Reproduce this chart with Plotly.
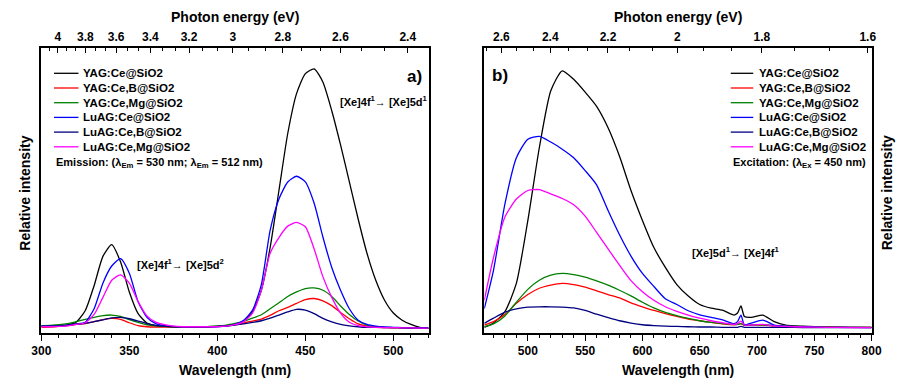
import numpy as np
import plotly.graph_objects as go

# ---------------- data ----------------
names = ["YAG:Ce@SiO2", "YAG:Ce,B@SiO2", "YAG:Ce,Mg@SiO2",
         "LuAG:Ce@SiO2", "LuAG:Ce,B@SiO2", "LuAG:Ce,Mg@SiO2"]
colors = ["#000000", "#ff0000", "#008000", "#0000ff", "#000080", "#ff00ff"]

# panel a) wavelength grid (nm)
wl_a = [300, 305, 310, 315, 320, 325, 330, 335, 340, 345,
        350, 355, 360, 365, 370, 375, 380, 385, 390, 395,
        400, 405, 410, 415, 420, 425, 430, 435, 440, 445,
        450, 455, 460, 465, 470, 475, 480, 485, 490, 495,
        500, 505, 510, 515, 520]
a_yag_ce = [2.4, 2.4, 2.5, 2.8, 3.9, 7.9, 16.6, 26.9, 31.0, 25.0,
            14.4, 6.8, 3.5, 2.6, 2.3, 2.2, 2.2, 2.2, 2.2, 2.2,
            2.3, 2.5, 3.0, 4.2, 7.5, 15, 30, 50, 70, 84,
            91, 92.7, 88, 78, 66, 53, 40, 28, 18.5, 11.5,
            7, 4.5, 3, 2, 1.6]
a_yag_ce_b = [2.0, 2.1, 2.3, 2.6, 3.0, 3.3, 4.0, 4.7, 5.1, 4.8,
              3.6, 2.6, 2.2, 2.1, 2.1, 2.1, 2.1, 2.1, 2.1, 2.2,
              2.3, 2.6, 3.0, 3.5, 4.2, 4.9, 6.2, 7.8, 9.0, 10.4,
              11.7, 12.1, 11.3, 9.6, 7.2, 5.0, 3.2, 2.4, 2.0, 1.9,
              1.8, 1.8, 1.7, 1.7, 1.6]
a_yag_ce_mg = [2.6, 2.7, 2.9, 3.3, 4.0, 4.8, 5.5, 6.1, 6.3, 5.8,
               4.7, 3.7, 2.9, 2.5, 2.3, 2.2, 2.2, 2.2, 2.2, 2.3,
               2.5, 2.8, 3.4, 4.1, 5.2, 6.4, 8.5, 10.6, 12.8, 14.4,
               15.6, 15.8, 15, 12.8, 9.5, 6.5, 4.2, 2.8, 2.2, 2.0,
               1.9, 1.8, 1.7, 1.7, 1.6]
a_luag_ce = [2.4, 2.4, 2.5, 2.7, 3.2, 3.8, 8.5, 17.5, 23.5, 26.1,
             21, 11, 5.5, 3.3, 2.6, 2.3, 2.2, 2.2, 2.2, 2.2,
             2.2, 2.4, 3, 4.5, 8, 17, 36, 47, 53, 55,
             53, 45.5, 33.6, 23, 15, 8.5, 4.5, 3, 2.4, 2.1,
             2, 1.9, 1.8, 1.8, 1.8]
a_luag_ce_b = [2.3, 2.4, 2.5, 2.8, 3.1, 3.4, 4.0, 4.6, 5.3, 5.5,
               5.0, 4.2, 3.3, 2.7, 2.4, 2.2, 2.2, 2.2, 2.2, 2.2,
               2.3, 2.5, 2.8, 3.2, 3.7, 4.3, 5.2, 6.3, 7.4, 8.3,
               8.0, 6.8, 5.1, 3.9, 3.0, 2.5, 2.2, 2.0, 2.0, 1.9,
               1.9, 1.8, 1.8, 1.7, 1.7]
a_luag_ce_mg = [2.2, 2.2, 2.3, 2.5, 3.0, 3.6, 6.5, 12.5, 18.5, 20.4,
                17.5, 11, 6, 3.8, 2.9, 2.4, 2.2, 2.2, 2.2, 2.2,
                2.2, 2.4, 2.9, 4, 7, 15, 28, 33.5, 37.5, 38.8,
                37.3, 29.5, 19.7, 12.5, 7, 3.8, 2.6, 2.2, 2.0, 1.9,
                1.9, 1.8, 1.8, 1.7, 1.7]

# panel b) wavelength grid (nm)
wl_b = [462, 470, 480, 490, 500, 510, 520, 530, 540, 550,
        560, 570, 580, 590, 600, 610, 620, 630, 640, 650,
        660, 670, 680, 683, 686, 689, 695, 705, 715, 725,
        740, 760, 780, 800]
b_yag_ce = [2.0, 3.5, 7.5, 17.5, 39.5, 65, 85, 92, 89, 84.5,
            79.5, 72, 62, 50, 39.5, 30, 23, 17, 13, 10,
            8.7, 8.0, 6.3, 7, 9.5, 5.8, 5.5, 6.3, 4, 2.8,
            2.4, 2.1, 2.0, 2.0]
b_yag_ce_b = [2.8, 4, 6.5, 10.4, 13.5, 15.7, 16.8, 17.4, 17, 16.1,
              14.8, 13.5, 12.3, 10.6, 9.2, 7.9, 6.8, 5.8, 4.9, 4.3,
              3.7, 3.2, 2.9, 3.0, 3.3, 2.7, 2.7, 2.8, 2.5, 2.3,
              2.2, 2.1, 2.0, 2.0]
b_yag_ce_mg = [2.2, 3.2, 6, 10.8, 15.3, 18.5, 20.3, 20.9, 20.5, 19.6,
               18.3, 16.8, 15, 13, 10.8, 8.8, 7.2, 6.1, 5.1, 4.3,
               3.7, 3.3, 3.0, 3.0, 3.3, 2.8, 2.8, 2.9, 2.6, 2.4,
               2.2, 2.1, 2.0, 2.0]
b_luag_ce = [8.6, 22, 45.3, 61.5, 68, 69, 67, 64.5, 61.5, 57,
             52, 43, 34.5, 27, 20.9, 16.3, 12, 10, 7.8, 6.4,
             5.5, 4.6, 3.3, 4, 6.3, 2.9, 3.5, 4.5, 2.8, 2.4,
             2.2, 2.0, 2.0, 1.9]
b_luag_ce_b = [3.4, 5.2, 7.3, 8.5, 9.1, 9.2, 9.2, 9.1, 8.8, 7.9,
               6.6, 5.4, 4.3, 3.5, 2.9, 2.6, 2.4, 2.3, 2.2, 2.1,
               2.1, 2.0, 2.0, 2.0, 2.3, 2.0, 2.0, 2.0, 2.0, 2.0,
               1.9, 1.9, 1.9, 1.9]
b_luag_ce_mg = [11.5, 26.5, 40.7, 47, 50, 50.3, 48.8, 47.2, 45, 41,
                35.3, 29.5, 23.8, 18.4, 14.5, 11.5, 9.2, 7.6, 6.3, 5.2,
                4.3, 3.6, 3.0, 3.3, 4.2, 2.8, 2.8, 3.0, 2.5, 2.3,
                2.1, 2.0, 1.9, 1.9]

series_a = [a_yag_ce, a_yag_ce_b, a_yag_ce_mg, a_luag_ce, a_luag_ce_b, a_luag_ce_mg]
series_b = [b_yag_ce, b_yag_ce_b, b_yag_ce_mg, b_luag_ce, b_luag_ce_b, b_luag_ce_mg]

# top (photon energy) tick labels
top_a_labels = ["4", "3.8", "3.6", "3.4", "3.2", "3", "2.8", "2.6", "2.4"]
top_b_labels = ["2.6", "2.4", "2.2", "2", "1.8", "1.6"]

# ---------------- layout helpers ----------------
W, H = 908, 382
FONT = "Liberation Sans, Arial, sans-serif"


def px(x):
    return x / W


def py(y):
    return 1 - y / H


# energy -> wavelength position of the reference's top scales
def top_a_pos(e):
    return 11.1 + 1193.0 / e


def top_b_pos(e):
    return -34.6 + 1330.0 / e


def minor_energies(majors, lo, hi, posf):
    vals = []
    for e in majors:
        for d in (-0.4 / 3, -0.2 / 3, 0.2 / 3, 0.4 / 3):
            vals.append(round(e + d, 4))
    vals = sorted(set(vals))
    out = []
    for e in vals:
        if any(abs(e - m) < 1e-3 for m in majors):
            continue
        p = posf(e)
        if lo <= p <= hi:
            out.append(p)
    return out


ea = [float(t) for t in top_a_labels]
eb = [float(t) for t in top_b_labels]

fig = go.Figure()
for nm, c, ys in zip(names, colors, series_a):
    fig.add_trace(go.Scatter(x=wl_a, y=ys, mode="lines", name=nm,
                             line=dict(color=c, width=1.3, shape="spline", smoothing=0.6),
                             xaxis="x", yaxis="y", showlegend=False))
for nm, c, ys in zip(names, colors, series_b):
    fig.add_trace(go.Scatter(x=wl_b, y=ys, mode="lines", name=nm,
                             line=dict(color=c, width=1.3, shape="spline", smoothing=0.6),
                             xaxis="x2", yaxis="y2", showlegend=False))
# invisible helpers so the top (energy) axes are drawn
fig.add_trace(go.Scatter(x=[wl_a[0], wl_a[-1]], y=[a_yag_ce[0], a_yag_ce[-1]], mode="lines",
                         opacity=0, hoverinfo="skip", showlegend=False, xaxis="x3", yaxis="y"))
fig.add_trace(go.Scatter(x=[wl_b[0], wl_b[-1]], y=[b_yag_ce[0], b_yag_ce[-1]], mode="lines",
                         opacity=0, hoverinfo="skip", showlegend=False, xaxis="x4", yaxis="y2"))

tickfont = dict(family=FONT, size=12, color="black", weight="bold")
LW = 1.6
common_x = dict(showline=True, linewidth=LW, linecolor="black", showgrid=False,
                zeroline=False, tickfont=tickfont, tickcolor="black", tickwidth=1.4)
ydom = [py(333), py(48)]
common_y = dict(domain=ydom, range=[0, 100], showline=True, mirror=True,
                linewidth=LW, linecolor="black", showgrid=False, zeroline=False,
                ticks="", showticklabels=False)

fig.update_layout(
    width=W, height=H, autosize=False, margin=dict(l=0, r=0, t=0, b=0),
    paper_bgcolor="white", plot_bgcolor="white", showlegend=False,
    xaxis=dict(domain=[px(32), px(428)], range=[300, 520], anchor="y",
               tick0=300, dtick=50, ticks="outside", ticklen=6,
               minor=dict(dtick=10, ticks="outside", ticklen=3, tickwidth=1.2, tickcolor="black"),
               **common_x),
    xaxis3=dict(overlaying="x", side="top", anchor="y", range=[300, 520],
                tickmode="array", tickvals=[top_a_pos(e) for e in ea], ticktext=top_a_labels,
                ticks="inside", ticklen=5,
                minor=dict(tickmode="array", tickvals=minor_energies(ea, 300, 520, top_a_pos),
                           ticks="inside", ticklen=3, tickwidth=1.2, tickcolor="black"),
                **common_x),
    yaxis=dict(anchor="x", **common_y),
    xaxis2=dict(domain=[px(485), px(881)], range=[462, 800], anchor="y2",
                tick0=500, dtick=50, ticks="outside", ticklen=6,
                minor=dict(dtick=10, ticks="outside", ticklen=3, tickwidth=1.2, tickcolor="black"),
                **common_x),
    xaxis4=dict(overlaying="x2", side="top", anchor="y2", range=[462, 800],
                tickmode="array", tickvals=[top_b_pos(e) for e in eb], ticktext=top_b_labels,
                ticks="inside", ticklen=5,
                minor=dict(tickmode="array", tickvals=minor_energies(eb, 462, 800, top_b_pos),
                           ticks="inside", ticklen=3, tickwidth=1.2, tickcolor="black"),
                **common_x),
    yaxis2=dict(anchor="x2", **common_y),
)

ann = []
shapes = []


def text(x, y, s, size=11.5, xanchor="left", angle=0):
    ann.append(dict(x=px(x), y=py(y), xref="paper", yref="paper", text=s,
                    showarrow=False, xanchor=xanchor, yanchor="middle", textangle=angle,
                    font=dict(family=FONT, size=size, color="black", weight="bold")))


# axis titles
for cx in (230, 683):
    text(cx, 17, "Photon energy (eV)", size=14, xanchor="center")
    text(cx, 370, "Wavelength (nm)", size=14, xanchor="center")
text(15, 193, "Relative intensity", size=14, xanchor="center", angle=-90)
text(897, 193, "Relative intensity", size=14, xanchor="center", angle=-90)

# legends
rows = [73.3 + 14.7 * i for i in range(6)]
for i, (nm, c) in enumerate(zip(names, colors)):
    for lx0, lx1, tx in ((45, 70, 73), (737, 760, 764)):
        shapes.append(dict(type="line", xref="paper", yref="paper",
                           x0=px(lx0), x1=px(lx1), y0=py(rows[i]), y1=py(rows[i]),
                           line=dict(color=c, width=1.3)))
        text(tx, rows[i], nm)
text(45, 162.5, "Emission: (λ<sub>Em</sub> = 530 nm; λ<sub>Em</sub> = 512 nm)", size=11)
text(737, 162.5, "Excitation: (λ<sub>Ex</sub> = 450 nm)", size=11)

# panel labels and transitions
text(423, 76, "a)", size=17, xanchor="right")
text(491, 75, "b)", size=17)
text(335, 101, "[Xe]4f<sup>1</sup>→ [Xe]5d<sup>1</sup>", size=11)
text(128, 264, "[Xe]4f<sup>1</sup>→ [Xe]5d<sup>2</sup>", size=11)
text(695, 252, "[Xe]5d<sup>1</sup>→ [Xe]4f<sup>1</sup>", size=11)

fig.update_layout(annotations=ann, shapes=shapes)
fig.write_html(
    "out.html",
    config={"displayModeBar": False, "responsive": False},
    post_script=("document.documentElement.style.margin='0px';"
                 "document.body.style.margin='0px';"
                 "document.body.style.padding='0px';"
                 "document.body.style.overflow='hidden';"
                 "document.documentElement.style.overflow='hidden';"),
)
